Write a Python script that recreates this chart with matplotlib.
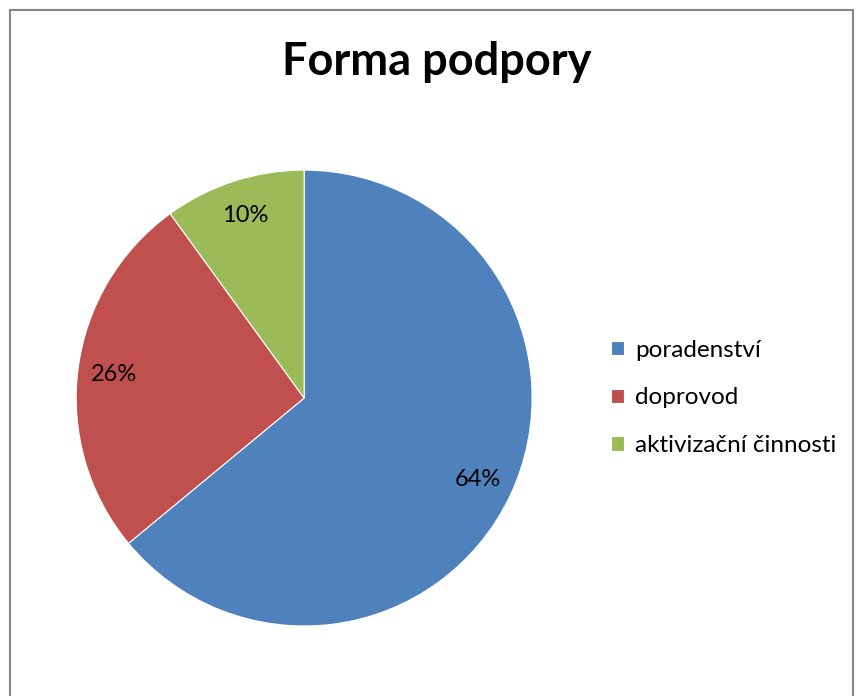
import matplotlib.pyplot as plt
from matplotlib.patches import Rectangle

# data
kategorie = ["poradenství", "doprovod", "aktivizační činnosti"]
hodnoty = [64, 26, 10]
barvy = ["#4F81BD", "#C0504D", "#9BBB59"]

plt.rcParams['font.family'] = ['Lato', 'DejaVu Sans']

fig = plt.figure(figsize=(8.56, 6.96), dpi=100)

# frame around the chart (bottom edge runs off the picture)
fig.patches.append(Rectangle((10 / 856, -0.05), 843 / 856, 1 - 10 / 696 + 0.05,
                             transform=fig.transFigure, fill=False,
                             edgecolor="#868686", linewidth=1.5))

ax = fig.add_axes([0.0888, 0.1006, 0.533, 0.655])
wedges, texts, autotexts = ax.pie(hodnoty, colors=barvy, startangle=90, counterclock=False,
                                  autopct='%.0f%%', pctdistance=0.84,
                                  wedgeprops=dict(edgecolor='white', linewidth=0.8),
                                  textprops=dict(fontsize=17, color='black'))
ax.set_xlim(-1, 1)
ax.set_ylim(-1, 1)
ax.set_aspect('equal')

fig.text(437 / 856, 1 - 62 / 696, "Forma podpory", ha='center', va='center',
         fontsize=32.5, fontweight='bold')

fig.legend(wedges, kategorie, loc='center left', bbox_to_anchor=(589 / 856, 1 - 398 / 696),
           frameon=False, fontsize=17.5, handlelength=0.55, handleheight=0.55,
           handletextpad=0.45, labelspacing=1.1)

plt.savefig("out.png", dpi=100)
plt.close()
